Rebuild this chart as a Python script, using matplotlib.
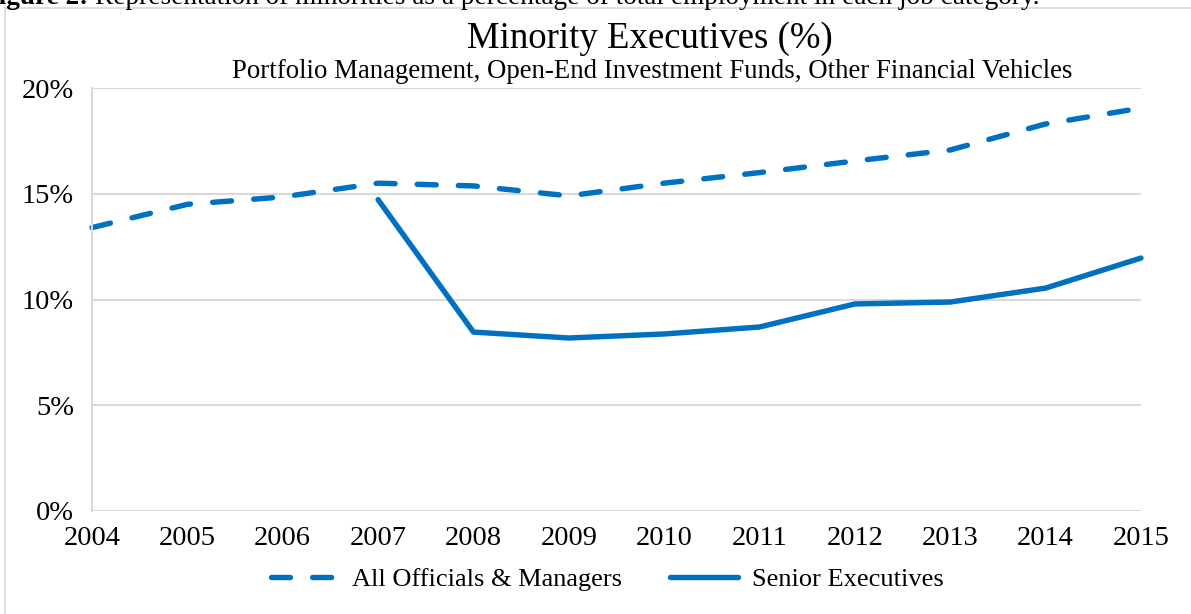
import matplotlib
matplotlib.use("Agg")
import matplotlib.pyplot as plt
from matplotlib.patches import Rectangle
from matplotlib.ticker import FuncFormatter

years = [2004, 2005, 2006, 2007, 2008, 2009, 2010, 2011, 2012, 2013, 2014, 2015]
all_officials = [13.4, 14.5, 14.85, 15.5, 15.37, 14.9, 15.5, 16.0, 16.55, 17.07, 18.3, 19.05]
senior_years = [2007, 2008, 2009, 2010, 2011, 2012, 2013, 2014, 2015]
senior_exec = [14.72, 8.46, 8.18, 8.37, 8.7, 9.79, 9.88, 10.54, 11.96]
yticks = [0, 5, 10, 15, 20]

title = "Minority Executives (%)"
subtitle = "Portfolio Management, Open-End Investment Funds, Other Financial Vehicles"
label_all = "All Officials & Managers"
label_sen = "Senior Executives"
caption_bold = "Figure 2:"
caption_rest = "Representation of minorities as a percentage of total employment in each job category."

plt.rcParams['font.family'] = ['Liberation Serif', 'DejaVu Serif']

W, H = 1191, 614
fig = plt.figure(figsize=(W / 100, H / 100), dpi=100)

# outer chart border (extends beyond image right/bottom)
fig.patches.append(Rectangle((5 / W, -0.1), 1.2, 1 - 7.5 / H + 0.1, transform=fig.transFigure,
                             fill=False, edgecolor='#D9D9D9', linewidth=1.2))

# cropped caption at top
fig.text(88 / W, 1 - 4 / H, caption_bold, fontsize=19.6, fontweight='bold', ha='right', va='baseline')
fig.text(95 / W, 1 - 4 / H, caption_rest, fontsize=19.6, ha='left', va='baseline')

ax = fig.add_axes([92 / W, 1 - 511 / H, (1141 - 92) / W, (511 - 88) / H])
blue = '#0070C0'
lw = 3.9
ax.plot(years, all_officials, color=blue, linewidth=lw, dashes=(3.5, 4.1),
        dash_capstyle='round', solid_capstyle='round', label=label_all)
ax.plot(senior_years, senior_exec, color=blue, linewidth=lw,
        solid_capstyle='round', solid_joinstyle='round', label=label_sen)

ax.set_xlim(years[0], years[-1])
ax.set_ylim(0, 20)
ax.set_xticks(years)
ax.set_yticks(yticks)
ax.yaxis.set_major_formatter(FuncFormatter(lambda v, p: f"{int(v)}%"))
ax.grid(axis='y', color='#D9D9D9', linewidth=1.5)
ax.set_axisbelow(True)
for s in ['top', 'right', 'bottom']:
    ax.spines[s].set_visible(False)
ax.spines['left'].set_color('#D9D9D9')
ax.spines['left'].set_linewidth(1.5)
ax.tick_params(axis='both', length=0, labelsize=20.5)
ax.tick_params(axis='x', pad=11)
ax.tick_params(axis='y', pad=13)
for ln in ax.lines:
    ln.set_clip_on(False)

fig.text(650 / W, 1 - 48 / H, title, fontsize=26.5, ha='center', va='baseline')
fig.text(652 / W, 1 - 78 / H, subtitle, fontsize=19.3, ha='center', va='baseline')

leg = fig.legend(loc='center', bbox_to_anchor=(607 / W, 1 - 579 / H), ncol=2, frameon=False,
                 fontsize=19, handlelength=2.6, handletextpad=0.5, columnspacing=1.8)

fig.savefig("out.png", dpi=100)
